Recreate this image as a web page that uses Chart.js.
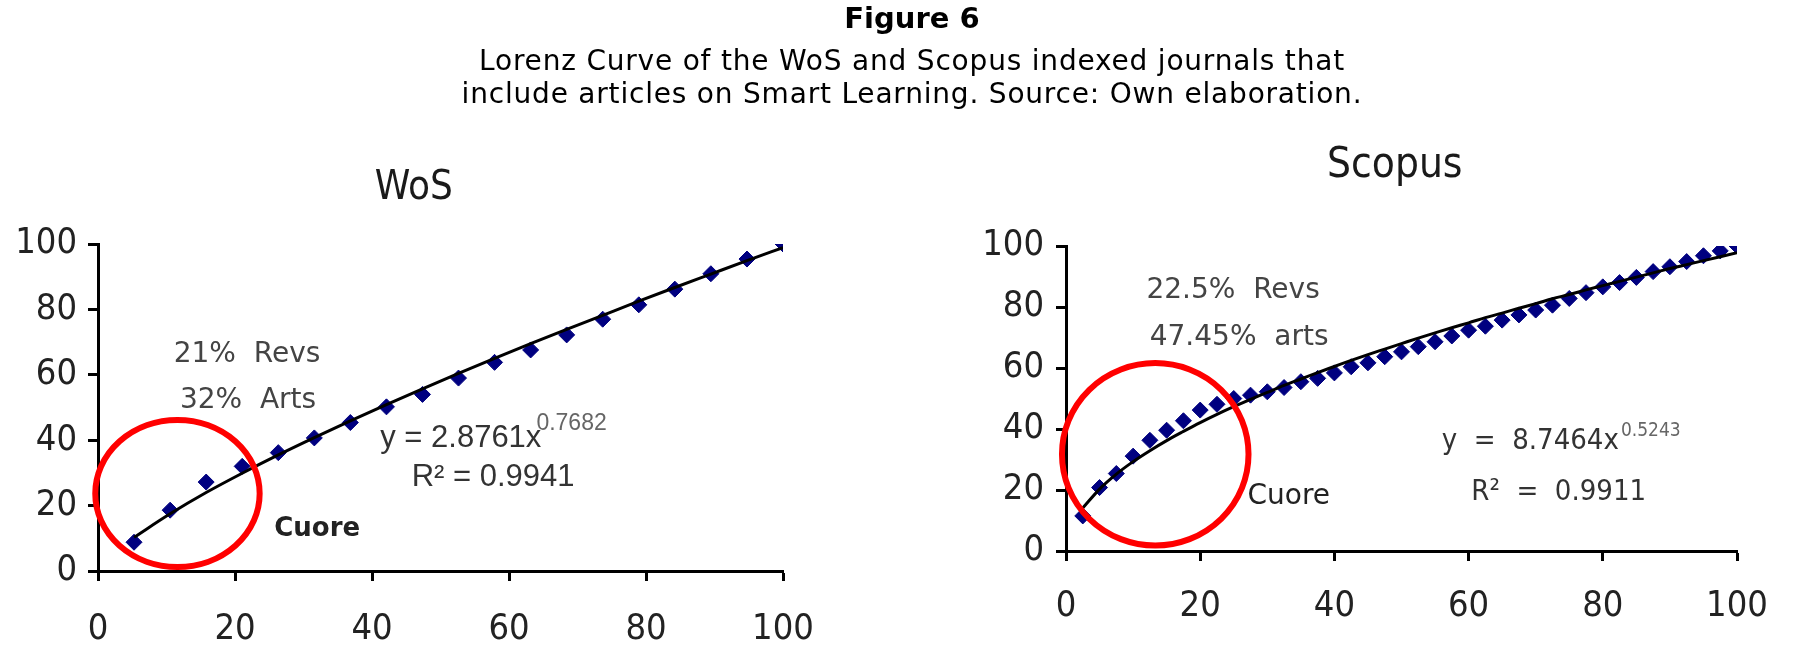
<!DOCTYPE html>
<html><head><meta charset="utf-8">
<script src="https://cdn.jsdelivr.net/npm/chart.js@4/dist/chart.umd.min.js"></script>
<style>
html,body{margin:0;padding:0;background:#fff;}
body{width:1798px;height:646px;position:relative;overflow:hidden;}
#c1{position:absolute;left:0;top:0;}
#c2{position:absolute;left:900px;top:0;}
.t{position:absolute;left:0;width:1824px;text-align:center;font-family:"DejaVu Sans";color:#000;line-height:1;white-space:nowrap;}
</style></head>
<body>
<canvas id="c1" width="900" height="646"></canvas>
<canvas id="c2" width="898" height="646"></canvas>
<div class="t" style="top:4px;font-size:29px;font-weight:bold;">Figure 6</div>
<div class="t" style="top:47px;font-size:28px;letter-spacing:0.8px;">Lorenz Curve of the WoS and Scopus indexed journals that</div>
<div class="t" style="top:80px;font-size:28px;letter-spacing:0.8px;">include articles on Smart Learning. Source: Own elaboration.</div>
<script>
// ---- data ----
const tickValues = [0, 20, 40, 60, 80, 100];

const wosShare = [5.26, 10.53, 15.79, 21.05, 26.32, 31.58, 36.84, 42.11, 47.37, 52.63, 57.89, 63.16, 68.42, 73.68, 78.95, 84.21, 89.47, 94.74, 100];
const wosCum   = [8.8, 18.6, 27.2, 32.0, 36.2, 40.7, 45.4, 50.2, 54.0, 59.0, 63.8, 67.6, 72.2, 77.0, 81.4, 86.2, 90.9, 95.4, 100];
const wosTrend = [10.3, 17.5, 24.0, 29.9, 35.5, 40.8, 45.9, 50.9, 55.7, 60.4, 65.0, 69.5, 73.9, 78.2, 82.5, 86.7, 90.8, 94.9, 98.9];

const scopusShare = [2.5, 5, 7.5, 10, 12.5, 15, 17.5, 20, 22.5, 25, 27.5, 30, 32.5, 35, 37.5, 40, 42.5, 45, 47.5, 50,
                     52.5, 55, 57.5, 60, 62.5, 65, 67.5, 70, 72.5, 75, 77.5, 80, 82.5, 85, 87.5, 90, 92.5, 95, 97.5, 100];
const scopusCum   = [11.5, 20.8, 25.4, 31.1, 36.3, 39.6, 42.7, 46.2, 48.1, 50.0, 51.1, 52.2, 53.6, 55.5, 56.6, 58.4, 60.4, 61.7, 63.7, 65.3,
                     67.0, 68.6, 70.5, 72.4, 73.7, 75.7, 77.4, 79.0, 80.6, 82.8, 84.7, 86.6, 88.0, 89.7, 91.6, 93.2, 94.9, 96.8, 98.4, 100];
const scopusTrend = [14.1, 20.3, 25.2, 29.3, 32.9, 36.2, 39.2, 42.1, 44.8, 47.3, 49.7, 52.0, 54.3, 56.4, 58.5, 60.5, 62.5, 64.4, 66.2, 68.0,
                     69.8, 71.5, 73.2, 74.8, 76.5, 78.0, 79.6, 81.1, 82.7, 84.1, 85.6, 87.0, 88.4, 89.8, 91.2, 92.6, 93.9, 95.2, 96.5, 97.8];

const pts = (xs, ys) => xs.map((v, i) => ({x: v, y: ys[i]}));

const annot = {
  id: 'annot',
  afterDatasetsDraw(chart, args, opts) {
    const {ctx, scales: {x, y}} = chart;
    ctx.save();
    (opts.ellipses || []).forEach(e => {
      const cx = x.getPixelForValue(e.x), cy = y.getPixelForValue(e.y);
      const rx = Math.abs(x.getPixelForValue(e.x + e.rx) - cx);
      const ry = Math.abs(y.getPixelForValue(e.y + e.ry) - cy);
      ctx.beginPath();
      ctx.ellipse(cx, cy, rx, ry, e.rot || 0, 0, Math.PI * 2);
      ctx.strokeStyle = e.color; ctx.lineWidth = e.width; ctx.stroke();
    });
    (opts.texts || []).forEach(t => {
      ctx.font = t.font; ctx.fillStyle = t.color;
      ctx.textAlign = t.align || 'center'; ctx.textBaseline = 'middle';
      ctx.fillText(t.text, x.getPixelForValue(t.x), y.getPixelForValue(t.y));
    });
    ctx.restore();
  }
};

function axis(sizeKey, size, pad) {
  return {
    type: 'linear', min: 0, max: 100,
    afterBuildTicks: s => { s.ticks = tickValues.map(v => ({value: v})); },
    afterFit: s => { s[sizeKey] = size; },
    grid: {drawOnChartArea: false, drawTicks: true, tickLength: 10, tickWidth: 3, tickColor: '#000'},
    border: {display: true, color: '#000', width: 3},
    ticks: {font: {family: 'DejaVu Sans Condensed', size: 36}, color: '#222', padding: pad, maxRotation: 0, autoSkip: false}
  };
}

function makeChart(id, share, cum, trend, pad, yWidth, xHeight, xPad, yPad, annots) {
  return new Chart(document.getElementById(id), {
    type: 'scatter',
    data: {datasets: [
      {data: pts(share, trend), showLine: true, borderColor: '#000', borderWidth: 3, pointRadius: 0,
       cubicInterpolationMode: 'monotone', order: 0},
      {data: pts(share, cum), showLine: false, pointStyle: 'rectRot', pointRadius: 8,
       backgroundColor: '#000080', borderColor: '#000080', borderWidth: 1, order: 1}
    ]},
    options: {
      responsive: false, animation: false, devicePixelRatio: 1,
      layout: {padding: pad},
      plugins: {legend: {display: false}, tooltip: {enabled: false}, annot: annots},
      scales: {x: axis('height', xHeight, xPad), y: axis('width', yWidth, yPad)}
    },
    plugins: [annot]
  });
}

makeChart('c1', wosShare, wosCum, wosTrend, {left: 0, right: 117, top: 244, bottom: 0}, 98, 75, 27, 11, {
  ellipses: [{x: 11.6, y: 23.7, rx: 12.0, ry: 22.5, color: '#ff0000', width: 6}],
  texts: [
    {text: 'WoS', x: 46.1, y: 117.0, font: '40px "DejaVu Sans Condensed"', color: '#1a1a1a'},
    {text: '21%  Revs', x: 21.75, y: 66.1, font: '28px "DejaVu Sans"', color: '#444'},
    {text: '32%  Arts', x: 21.9, y: 52.0, font: '28px "DejaVu Sans"', color: '#444'},
    {text: 'Cuore', x: 32.0, y: 12.7, font: 'bold 26px "DejaVu Sans"', color: '#222'},
    {text: 'y = 2.8761x', x: 41.2, y: 40.4, align: 'left', font: '31px "Liberation Sans"', color: '#333'},
    {text: '0.7682', x: 64.0, y: 45.1, align: 'left', font: '23px "Liberation Sans"', color: '#666'},
    {text: 'R² = 0.9941', x: 45.8, y: 28.7, align: 'left', font: '31px "Liberation Sans"', color: '#333'}
  ]
});

makeChart('c2', scopusShare, scopusCum, scopusTrend, {left: 0, right: 61, top: 246, bottom: 0}, 166, 95, 24, 12, {
  ellipses: [{x: 13.3, y: 31.7, rx: 13.9, ry: 29.9, color: '#ff0000', width: 6}],
  texts: [
    {text: 'Scopus', x: 49.0, y: 126.2, font: '42px "DejaVu Sans Condensed"', color: '#1a1a1a'},
    {text: '22.5%  Revs', x: 24.9, y: 85.5, font: '28px "DejaVu Sans"', color: '#444'},
    {text: '47.45%  arts', x: 25.8, y: 69.8, font: '28px "DejaVu Sans"', color: '#444'},
    {text: 'Cuore', x: 33.2, y: 17.9, font: '28px "DejaVu Sans"', color: '#222'},
    {text: 'y  =  8.7464x', x: 56.0, y: 36.0, align: 'left', font: '29px "DejaVu Sans Condensed"', color: '#333'},
    {text: '0.5243', x: 82.7, y: 39.3, align: 'left', font: '19px "DejaVu Sans Condensed"', color: '#666'},
    {text: 'R²  =  0.9911', x: 60.4, y: 19.3, align: 'left', font: '29px "DejaVu Sans Condensed"', color: '#333'}
  ]
});
</script>
</body></html>
